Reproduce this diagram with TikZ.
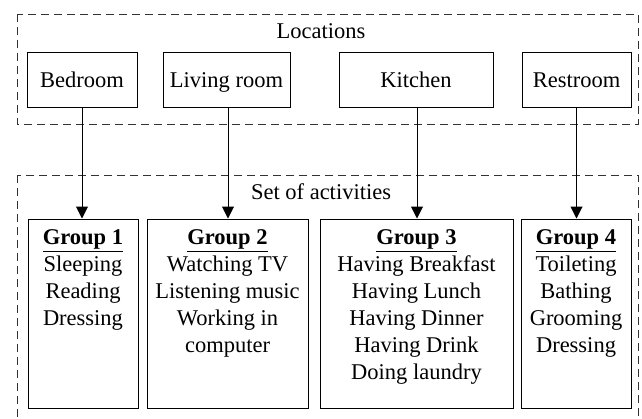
\documentclass[tikz,border=0pt]{standalone}
\usepackage{fontspec}
\setmainfont{Liberation Serif}
\usetikzlibrary{arrows.meta}
\begin{document}
\begin{tikzpicture}[x=1pt,y=-1pt,
  every node/.style={font=\fontsize{22.5}{27}\selectfont},
  dashbox/.style={draw=black!80,line width=0.9pt,dash pattern=on 8pt off 5pt},
  locbox/.style={draw,line width=1pt,minimum height=55pt,inner sep=0pt,text height=16pt,text depth=1pt},
  grpbox/.style={draw,line width=1pt,minimum height=189pt,inner sep=0pt},
  grptext/.style={align=center,inner sep=0pt,anchor=north},
  conn/.style={line width=1pt,-{Triangle[length=12pt,width=12pt]}}
]
\useasboundingbox (0,0) rectangle (642,418);
\clip (0,0) rectangle (642,418);
\fill[white] (0,0) rectangle (642,418);
% containers
\draw[dashbox] (17,14) rectangle (638,124);
\draw[dashbox] (17,175) rectangle (638,440);
\node (loclbl) at (321,31) {Locations};
\node (actlbl) at (321,192) {Set of activities};
% location boxes
\node[locbox,minimum width=110pt] (bed) at (82,79.5) {Bedroom};
\node[locbox,minimum width=127pt] (liv) at (226.5,79.5) {Living room};
\node[locbox,minimum width=154pt] (kit) at (416,79.5) {Kitchen};
\node[locbox,minimum width=109pt] (rest) at (576.5,79.5) {Restroom};
% group boxes
\node[grpbox,minimum width=110pt] (g1) at (83,313.5) {};
\node[grpbox,minimum width=161pt] (g2) at (227.5,313.5) {};
\node[grpbox,minimum width=193pt] (g3) at (416.5,313.5) {};
\node[grpbox,minimum width=110pt] (g4) at (576,313.5) {};
\node[grptext] (t1) at ([yshift=-11pt]g1.north) {\underline{\textbf{Group 1}}\\Sleeping\\Reading\\Dressing};
\node[grptext] (t2) at ([yshift=-11pt]g2.north) {\underline{\textbf{Group 2}}\\Watching TV\\Listening music\\Working in\\computer};
\node[grptext] (t3) at ([yshift=-11pt]g3.north) {\underline{\textbf{Group 3}}\\Having Breakfast\\Having Lunch\\Having Dinner\\Having Drink\\Doing laundry};
\node[grptext] (t4) at ([yshift=-11pt]g4.north) {\underline{\textbf{Group 4}}\\Toileting\\Bathing\\Grooming\\Dressing};
% connectors
\draw[conn] (bed.south) -- (bed.south |- g1.north);
\draw[conn] ([xshift=1.5pt]liv.south) -- ([xshift=1.5pt]liv.south |- g2.north);
\draw[conn] ([xshift=1pt]kit.south) -- ([xshift=1pt]kit.south |- g3.north);
\draw[conn] (rest.south) -- (rest.south |- g4.north);
\end{tikzpicture}
\end{document}
